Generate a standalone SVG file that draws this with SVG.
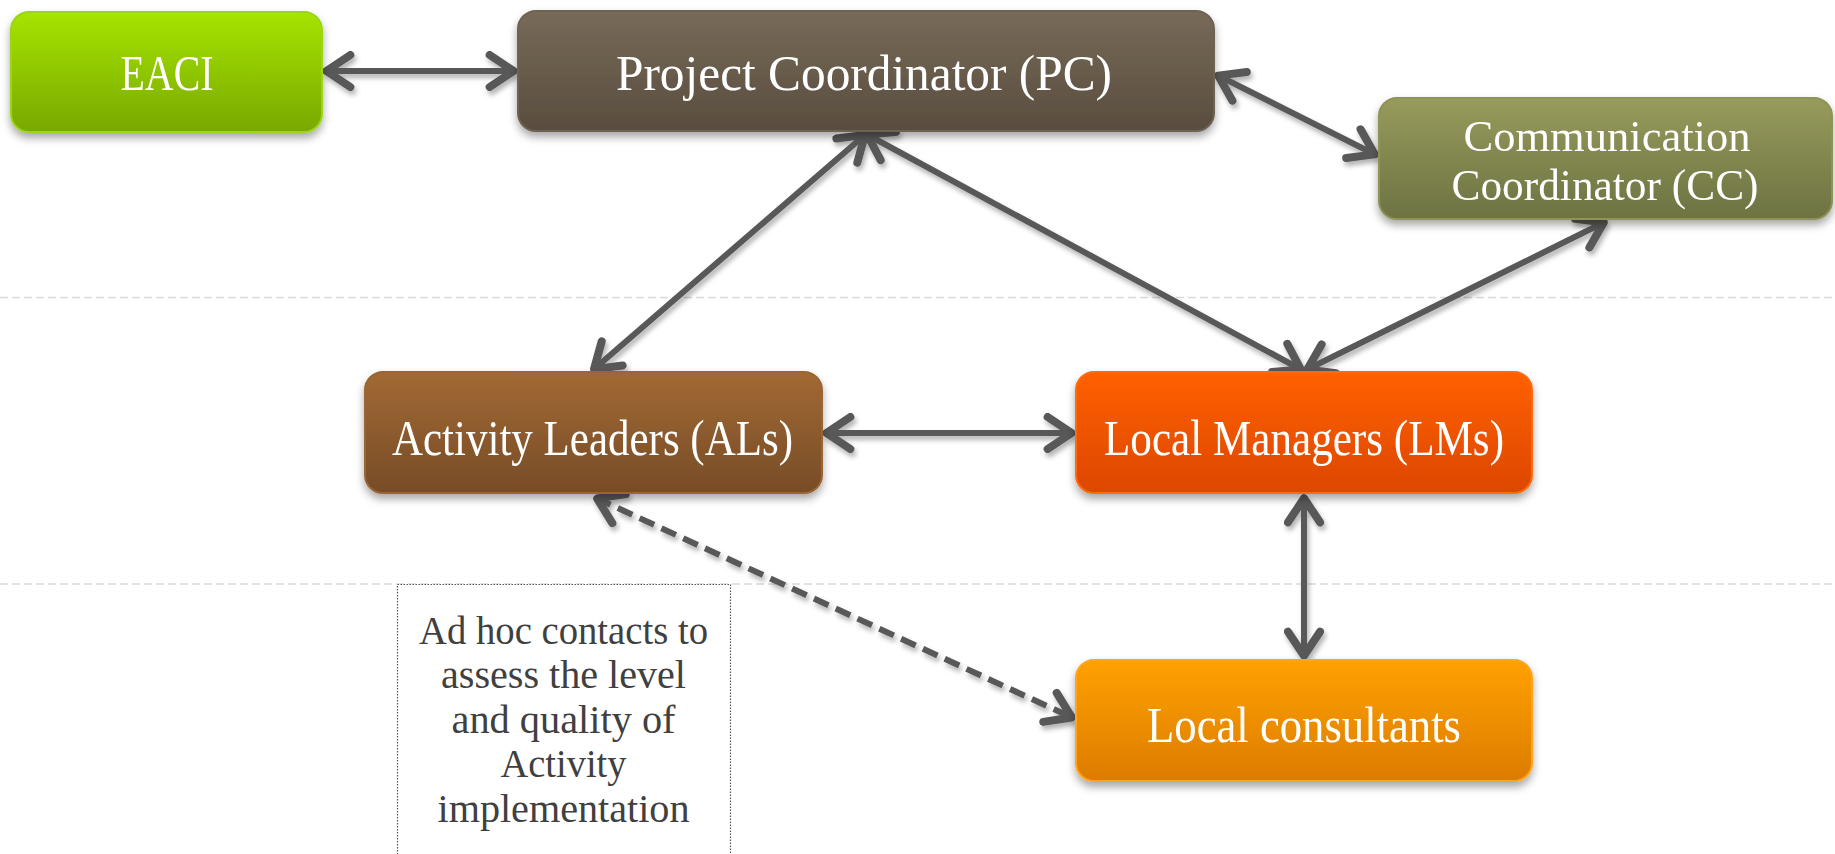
<svg xmlns="http://www.w3.org/2000/svg" width="1835" height="854" viewBox="0 0 1835 854">
<style>
.lbl{font-family:"Liberation Serif","Times New Roman",serif;fill:#ffffff;text-anchor:middle;font-size:51px}
.lbl2{font-family:"Liberation Serif","Times New Roman",serif;fill:#ffffff;text-anchor:middle;font-size:44px}
.note{font-family:"Liberation Serif","Times New Roman",serif;fill:#404040;text-anchor:middle;font-size:40px}
.con{stroke:#595959;stroke-width:6;fill:none;marker-start:url(#arr);marker-end:url(#arr)}
.guide{stroke:#d9d9d9;stroke-width:1.5;stroke-dasharray:8 4;fill:none}
</style>
<defs>
<filter id="sh" x="-10%" y="-10%" width="120%" height="140%">
<feDropShadow dx="0" dy="5" stdDeviation="4" flood-color="#000" flood-opacity="0.35"/>
</filter>
<filter id="lsh" x="-10%" y="-10%" width="120%" height="120%">
<feDropShadow dx="2" dy="4" stdDeviation="2.5" flood-color="#000" flood-opacity="0.3"/>
</filter>
<marker id="arr" markerUnits="userSpaceOnUse" markerWidth="40" markerHeight="40" viewBox="-25 -15 30 30" refX="0" refY="0" orient="auto-start-reverse">
<path d="M-19,-12 L-1,0 L-19,12" fill="none" stroke="#595959" stroke-width="6" stroke-linecap="round" stroke-linejoin="round"/>
</marker>
<linearGradient id="gE" x1="0" y1="0" x2="0" y2="1"><stop offset="0" stop-color="#a6e400"/><stop offset="1" stop-color="#78a800"/></linearGradient>
<linearGradient id="gP" x1="0" y1="0" x2="0" y2="1"><stop offset="0" stop-color="#776a58"/><stop offset="1" stop-color="#594d3f"/></linearGradient>
<linearGradient id="gC" x1="0" y1="0" x2="0" y2="1"><stop offset="0" stop-color="#979b5c"/><stop offset="1" stop-color="#6d7242"/></linearGradient>
<linearGradient id="gA" x1="0" y1="0" x2="0" y2="1"><stop offset="0" stop-color="#a26934"/><stop offset="1" stop-color="#774c27"/></linearGradient>
<linearGradient id="gL" x1="0" y1="0" x2="0" y2="1"><stop offset="0" stop-color="#ff6000"/><stop offset="1" stop-color="#dd4700"/></linearGradient>
<linearGradient id="gO" x1="0" y1="0" x2="0" y2="1"><stop offset="0" stop-color="#ffa100"/><stop offset="1" stop-color="#dc7c00"/></linearGradient>
</defs>
<rect width="1835" height="854" fill="#ffffff"/>
<g id="guides">
<line class="guide" x1="0" y1="297.5" x2="1835" y2="297.5"/>
<line class="guide" x1="0" y1="584" x2="1835" y2="584"/>
</g>
<g id="note">
<rect x="397.5" y="584.5" width="333" height="300" fill="#ffffff" stroke="#555" stroke-width="1.2" stroke-dasharray="1.5 1.5"/>
<text class="note" x="563.5" y="644" textLength="289" lengthAdjust="spacingAndGlyphs">Ad hoc contacts to</text>
<text class="note" x="563.5" y="688" textLength="245" lengthAdjust="spacingAndGlyphs">assess the level</text>
<text class="note" x="563.5" y="733" textLength="224" lengthAdjust="spacingAndGlyphs">and quality of</text>
<text class="note" x="563.5" y="777" textLength="126" lengthAdjust="spacingAndGlyphs">Activity</text>
<text class="note" x="563.5" y="822" textLength="252" lengthAdjust="spacingAndGlyphs">implementation</text>
</g>
<g id="connectors" filter="url(#lsh)">
<line class="con" x1="325" y1="71" x2="515" y2="71"/>
<line class="con" x1="1217" y1="75" x2="1376" y2="155"/>
<line class="con" x1="866" y1="134" x2="593" y2="370"/>
<line class="con" x1="866" y1="134" x2="1302" y2="370"/>
<line class="con" x1="1605" y1="222" x2="1306" y2="370"/>
<line class="con" x1="825" y1="433" x2="1073" y2="433"/>
<line class="con" x1="1304" y1="497" x2="1304" y2="657"/>
<line class="con" x1="596" y1="498" x2="1073" y2="718" stroke-dasharray="16 8"/>
</g>
<g id="eaci" filter="url(#sh)">
<rect x="11" y="12" width="311" height="120" rx="18" fill="url(#gE)" stroke="#9cd41a" stroke-width="2"/>
<text class="lbl" x="167" y="90" textLength="93" lengthAdjust="spacingAndGlyphs">EACI</text>
</g>
<g id="pc" filter="url(#sh)">
<rect x="518" y="11" width="696" height="120" rx="18" fill="url(#gP)" stroke="#6e6252" stroke-width="2"/>
<text class="lbl" x="864" y="90" textLength="496" lengthAdjust="spacingAndGlyphs">Project Coordinator (PC)</text>
</g>
<g id="cc" filter="url(#sh)">
<rect x="1379" y="98" width="453" height="121" rx="18" fill="url(#gC)" stroke="#8e9356" stroke-width="2"/>
<text class="lbl2" x="1607" y="151" textLength="287" lengthAdjust="spacingAndGlyphs">Communication</text>
<text class="lbl2" x="1605" y="200" textLength="307" lengthAdjust="spacingAndGlyphs">Coordinator (CC)</text>
</g>
<g id="al" filter="url(#sh)">
<rect x="365" y="372" width="457" height="121" rx="18" fill="url(#gA)" stroke="#9a6535" stroke-width="2"/>
<text class="lbl" x="592.5" y="455" textLength="401" lengthAdjust="spacingAndGlyphs">Activity Leaders (ALs)</text>
</g>
<g id="lm" filter="url(#sh)">
<rect x="1076" y="372" width="456" height="121" rx="18" fill="url(#gL)" stroke="#ff6a10" stroke-width="2"/>
<text class="lbl" x="1304" y="455" textLength="400" lengthAdjust="spacingAndGlyphs">Local Managers (LMs)</text>
</g>
<g id="lc" filter="url(#sh)">
<rect x="1076" y="660" width="456" height="121" rx="18" fill="url(#gO)" stroke="#ffa41a" stroke-width="2"/>
<text class="lbl" x="1304" y="742" textLength="314" lengthAdjust="spacingAndGlyphs">Local consultants</text>
</g>
</svg>
